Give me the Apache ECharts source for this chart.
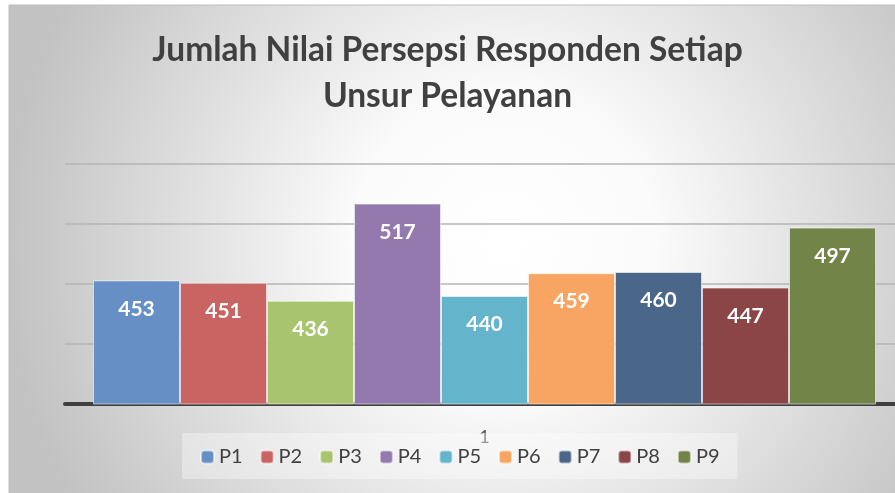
<!DOCTYPE html>
<html>
<head>
<meta charset="utf-8">
<script src="https://cdn.jsdelivr.net/npm/echarts@6/dist/echarts.min.js"></script>
<style>
  html, body { margin: 0; padding: 0; background: #fff; }
  #chart { width: 895px; height: 493px; }
</style>
</head>
<body>
<div id="chart"></div>
<script>
const categories = ['1'];
const seriesNames = ['P1', 'P2', 'P3', 'P4', 'P5', 'P6', 'P7', 'P8', 'P9'];
const seriesValues = [453, 451, 436, 517, 440, 459, 460, 447, 497];
const seriesColors = ['#6690c5', '#c96462', '#a8c46e', '#9379ae', '#64b5cc', '#f8a462', '#4a6689', '#8b4546', '#728447'];

const titleText = 'Jumlah Nilai Persepsi Responden Setiap\nUnsur Pelayanan';
const fontFamily = 'Lato, "Open Sans", sans-serif';

const chart = echarts.init(document.getElementById('chart'));

const series = seriesNames.map(function (name, i) {
  return {
    name: name,
    type: 'bar',
    barWidth: 87,
    barGap: '0%',
    data: [seriesValues[i]],
    itemStyle: {
      color: seriesColors[i],
      borderColor: 'rgba(255,255,255,0.55)',
      borderWidth: 1
    },
    label: {
      show: true,
      position: 'insideTop',
      distance: 18,
      color: '#fff',
      fontSize: 21,
      fontWeight: 'bold',
      fontFamily: fontFamily
    }
  };
});

chart.setOption({
  backgroundColor: '#ffffff',
  animation: false,
  graphic: {
    elements: [{
      type: 'rect',
      z: -10,
      silent: true,
      shape: { x: 9, y: 5, width: 900, height: 500 },
      style: {
        fill: {
          type: 'radial',
          x: 0.55, y: 0.48, r: 1.0,
          colorStops: [
            { offset: 0, color: '#ffffff' },
            { offset: 0.3, color: '#fbfbfb' },
            { offset: 1, color: '#c2c2c2' }
          ]
        },
        stroke: '#bdbdbd',
        lineWidth: 1
      }
    }]
  },
  title: {
    text: titleText,
    left: 'center',
    top: 22,
    textStyle: {
      color: '#404040',
      fontSize: 33.5,
      fontWeight: 'bold',
      fontFamily: fontFamily,
      lineHeight: 46
    }
  },
  legend: {
    data: seriesNames,
    left: 182,
    top: 433,
    padding: [14, 18, 12, 18],
    backgroundColor: 'rgba(255,255,255,0.35)',
    itemWidth: 13,
    itemHeight: 13,
    itemGap: 17,
    textStyle: {
      color: '#404040',
      fontSize: 20,
      fontFamily: fontFamily
    }
  },
  grid: {
    left: 65,
    top: 164,
    width: 839,
    bottom: 89,
    outerBoundsMode: 'none'
  },
  xAxis: {
    type: 'category',
    data: categories,
    axisTick: { show: false },
    axisLine: { lineStyle: { color: '#404040', width: 4 } },
    axisLabel: {
      margin: 24,
      color: '#595959',
      fontSize: 18,
      fontFamily: fontFamily
    }
  },
  yAxis: {
    type: 'value',
    min: 350,
    max: 550,
    interval: 50,
    axisLabel: { show: false },
    axisLine: { show: false },
    axisTick: { show: false },
    splitLine: { lineStyle: { color: '#b5b5b5', width: 1.5 } }
  },
  series: series
});
</script>
</body>
</html>
